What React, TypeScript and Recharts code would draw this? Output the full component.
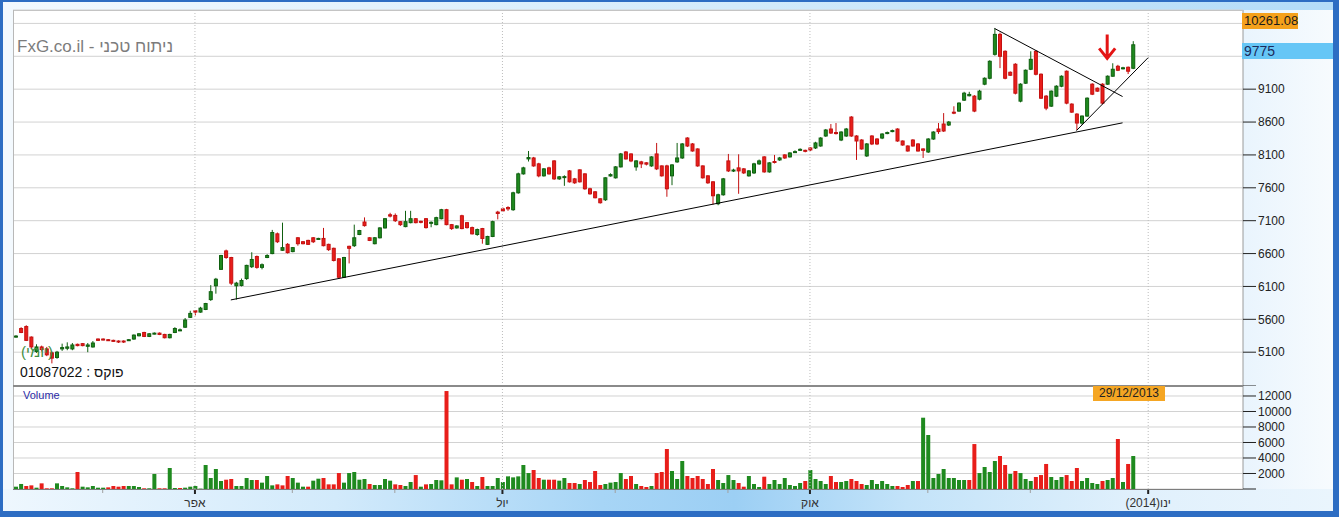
import React from 'react';
import { ComposedChart, Bar, XAxis, YAxis, CartesianGrid, ReferenceLine, ReferenceDot, Cell } from 'recharts';

const FONT = "Arial, 'Liberation Sans', sans-serif";

// [open, high, low, close] per trading day
const candles: [number, number, number, number][] = [
  [5330,5360,5320,5345],[5460,5480,5390,5400],[5490,5510,5270,5280],[5330,5340,5160,5180],[5110,5220,5090,5180],
  [5180,5200,5110,5140],[5150,5180,5040,5060],[5090,5110,4930,5010],[5020,5120,5000,5100],[5150,5230,5120,5170],
  [5160,5250,5130,5180],[5150,5240,5130,5210],[5220,5230,5190,5200],[5230,5240,5190,5200],[5190,5240,5100,5210],
  [5180,5270,5170,5240],[5300,5310,5270,5280],[5300,5310,5280,5290],[5290,5300,5270,5285],[5280,5290,5260,5270],
  [5270,5280,5240,5265],[5270,5280,5240,5260],[5280,5300,5270,5290],[5300,5370,5290,5360],[5350,5390,5340,5380],
  [5400,5410,5330,5340],[5340,5390,5330,5380],[5380,5400,5370,5390],[5390,5400,5360,5370],[5370,5380,5310,5320],
  [5320,5380,5310,5370],[5400,5480,5390,5460],[5430,5460,5420,5440],[5480,5620,5470,5590],[5630,5730,5620,5690],
  [5730,5740,5660,5710],[5710,5790,5700,5770],[5750,5850,5740,5840],[5900,6120,5880,6020],[6110,6230,5990,6210],
  [6360,6580,6350,6570],[6640,6660,6520,6540],[6540,6550,6120,6150],
  [6110,6170,5900,6150],[6115,6220,6100,6190],[6220,6430,6200,6420],[6400,6620,6380,6510],[6555,6570,6370,6390],
  [6390,6450,6360,6430],[6540,6590,6530,6570],[6600,6960,6590,6920],[6900,6920,6760,6780],[6650,7070,6640,6690],
  [6740,6760,6600,6615],[6630,6700,6620,6690],[6840,6850,6720,6750],[6780,6790,6740,6750],[6800,6810,6730,6740],
  [6840,6850,6760,6780],[6820,6840,6810,6830],[6830,6990,6710,6720],[6740,6750,6640,6660],[6680,6690,6480,6495],
  [6520,6530,6215,6240],[6240,6550,6230,6540],[6710,6720,6450,6680],[6720,7040,6700,6840],[6890,6960,6880,6950],
  [7080,7150,7010,7025],[6840,6850,6790,6800],[6750,6850,6740,6840],[6840,7000,6830,6990],[6990,7140,6980,7130],
  [7190,7220,7150,7170],[7180,7210,7080,7100],[7085,7095,7020,7040],[7010,7250,7000,7085],[7070,7250,7060,7130],
  [7130,7140,7060,7070],[7090,7100,7060,7075],[7130,7140,6980,6995],[7060,7090,7000,7075],[7040,7160,7030,7146],
  [7130,7280,7120,7267],[7267,7280,7030,7040],[7040,7050,6960,6980],[6990,7030,6980,7020],[7175,7190,6970,6980],
  [7070,7080,6980,6995],[6995,7010,6890,6900],[6890,6980,6870,6965],[6980,6990,6750,6830],[6740,6870,6730,6860],
  [6860,7100,6850,7085],[7230,7250,7120,7210],[7280,7300,7240,7250],
  [7300,7320,7250,7280],[7267,7540,7250,7524],[7524,7830,7510,7812],[7812,7920,7800,7903],[8040,8160,8000,8060],
  [8054,8070,7920,7933],[7964,7980,7760,7782],[7782,7900,7770,7888],[7903,7920,7800,7812],[8009,8020,7720,7736],
  [7736,7780,7720,7767],[7760,7790,7630,7770],[7857,7870,7680,7691],[7736,7750,7660,7676],[7873,7880,7680,7691],
  [7812,7820,7570,7585],[7585,7600,7495,7509],[7539,7550,7440,7449],[7433,7440,7360,7373],[7418,7760,7400,7752],
  [7780,7820,7770,7800],[7752,7930,7740,7918],[7918,8130,7910,8115],[8145,8160,8030,8039],[8115,8125,7990,8009],
  [7918,8020,7860,8009],[7994,8010,7900,7964],[7980,7990,7940,7960],[7933,8080,7920,8070],[8115,8282,7870,7888],
  [7933,7940,7770,7782],[7933,7950,7464,7585],[7782,7960,7640,7948],[7994,8282,7980,8054],[8054,8280,8040,8267],
  [8357,8370,8220,8236],[8267,8280,8150,8160],[8191,8200,7920,7933],[7933,7940,7740,7752],[7782,7790,7660,7676],
  [7691,7700,7345,7479],[7358,7510,7335,7494],[7494,7750,7480,7736],[8009,8115,7840,7857],[7860,7890,7840,7870],
  [7903,8110,7509,7857],[7888,7900,7810,7827],[7782,7870,7770,7857],
  [7827,7980,7810,7964],[7964,8030,7950,8009],[8070,8080,7830,7842],[7842,7990,7830,7979],[8000,8100,7970,7985],
  [8024,8070,8010,8054],[8100,8110,8040,8054],[8070,8140,8060,8130],[8140,8170,8130,8150],[8170,8200,8160,8185],
  [8170,8180,8140,8155],[8206,8215,8160,8176],[8206,8300,8190,8282],[8236,8370,8225,8357],[8388,8495,8375,8479],
  [8494,8570,8420,8433],[8440,8585,8410,8425],[8327,8460,8310,8448],[8388,8510,8375,8494],[8676,8690,8375,8388],
  [8388,8400,8024,8312],[8327,8340,8180,8191],[8085,8280,8070,8267],[8388,8400,8250,8267],[8342,8355,8250,8267],
  [8357,8430,8340,8418],[8425,8455,8415,8440],[8455,8485,8445,8470],[8494,8505,8300,8312],[8312,8320,8240,8251],
  [8236,8245,8150,8160],[8327,8340,8225,8236],[8267,8280,8150,8160],[8191,8200,8054,8170],[8145,8355,8130,8342],
  [8342,8460,8330,8448],[8494,8585,8420,8455],[8570,8736,8450,8464],[8555,8615,8540,8600],[8750,8840,8720,8736],
  [8767,8900,8755,8888],
  [8933,9060,8920,9039],[9000,9060,8990,9020],[8994,9010,8750,8767],[8948,9090,8930,9070],[9176,9280,9160,9266],
  [9266,9540,9250,9524],[9630,10024,9610,9933],[9933,9960,9420,9600],[9676,9690,9250,9266],[9357,9370,9300,9312],
  [9479,9495,9020,9039],[8918,9190,8900,9176],[9191,9400,9180,9388],[9403,9676,9390,9554],[9676,9690,9310,9327],
  [9327,9340,8950,8963],[8994,9010,8780,8812],[8842,9080,8830,9070],[8994,9160,8980,9145],[9145,9310,9130,9297],
  [9373,9385,8870,8888],[8873,8885,8740,8751],[8721,8735,8479,8585],[8585,8700,8560,8691],[8691,8975,8680,8963],
  [9176,9190,9010,9024],[9115,9125,9060,9070],[9176,9190,8870,8888],[9176,9310,9165,9297],[9297,9494,9290,9403],
  [9448,9470,9375,9388],[9410,9440,9400,9425],[9433,9445,9330,9373],[9418,9830,9405,9775],
];

const volumes: number[] = [
  300,650,390,470,170,730,90,90,730,390,215,90,2190,300,215,390,170,170,215,390,
  300,
  390,390,390,260,90,90,1940,90,90,2710,130,130,170,300,390,50,3100,1420,2580,1030,
  1200,1290,390,390,1420,1160,1160,820,1680,470,
  600,
  470,1680,1420,820,300,300,1075,1330,1420,600,600,2060,820,2060,2190,1200,1290,645,515,515,
  1290,1075,600,515,390,900,1800,300,600,645,1160,1120,12640,600,1500,1200,1290,900,390,1550,
  390,390,1420,900,1630,1500,1630,3100,2060,2450,
  1420,1200,1200,1200,1075,1420,775,775,645,1160,900,2320,515,645,820,900,2060,1290,1680,645,
  390,260,390,2060,2190,
  5160,2320,1290,3610,1680,1420,1680,1290,645,2580,1160,775,1800,1160,775,300,1680,645,260,1590,
  645,1160,645,1420,515,390,775,1030,2450,1290,1030,645,1680,900,900,1030,1290,1030,645,515,
  1160,645,1030,645,390,390,260,515,1030,1030,9200,6970,1420,1940,2580,1420,1420,1160,1160,1160,
  5800,2060,2840,2190,3610,4260,3100,1940,2320,2060,1290,1030,1550,1800,3230,1550,1160,1550,1800,1030,
  2710,1030,1420,775,645,1030,1160,1420,6450,900,3230,4260,
];

const SLOTS = 240;
const monthLabels = [
  { slot: 35, label: 'אפר' },
  { slot: 95, label: 'יול' },
  { slot: 155, label: 'אוק' },
  { slot: 221, label: '(2014)ינו' },
];
const monthMinor = [17, 54, 74, 117, 139, 178, 198];
const priceTicks = [4586, 5100, 5600, 6100, 6600, 7100, 7600, 8100, 8600, 9100, 9600, 10100];
// labels covered by the last-price / max-price boxes
const hiddenPriceLabels = [4586, 9600, 10100];
const volumeTicks = [0, 2000, 4000, 6000, 8000, 10000, 12000];
const trendLines = [
  { x1: 42, y1: 5895, x2: 216, y2: 8588 },
  { x1: 191, y1: 10024, x2: 216, y2: 8988 },
  { x1: 207, y1: 8470, x2: 221, y2: 9580 },
];
const arrowAt = { slot: 213, price: 9933 };

const UP = '#1f8a1f';
const UP_EDGE = '#0f5f0f';
const DOWN = '#e81e1a';
const DOWN_EDGE = '#c41010';

const rows = Array.from({ length: SLOTS }, (_, i) => {
  const c = candles[i];
  if (!c) return { slot: i };
  const [open, high, low, close] = c;
  const prev = i > 0 ? candles[i - 1][3] : open;
  return { slot: i, open, high, low, close, range: [low, high], vol: volumes[i], volUp: close >= prev };
});

function Candle(props: any) {
  const { x, y, width, height, payload } = props;
  if (payload == null || payload.open == null) return null;
  const top = Math.min(y, y + height);
  const span = Math.abs(height);
  const k = span / (payload.high - payload.low);
  const py = (v: number) => top + (payload.high - v) * k;
  const up = payload.close >= payload.open;
  const cx = x + width / 2;
  const bTop = py(Math.max(payload.open, payload.close));
  const bBot = py(Math.min(payload.open, payload.close));
  return (
    <g>
      <line x1={cx} x2={cx} y1={top} y2={top + span} stroke={up ? UP_EDGE : DOWN_EDGE} strokeWidth={1} />
      <rect x={cx - 1.5} y={bTop} width={3} height={Math.max(1, bBot - bTop)} fill={up ? UP : DOWN} stroke={up ? UP_EDGE : DOWN_EDGE} strokeWidth={1} />
    </g>
  );
}

function MonthTick(props: any) {
  const { x, y, payload } = props;
  const major = monthLabels.find((m) => m.slot === payload.value);
  if (major) {
    return (
      <g>
        <line x1={x} x2={x} y1={y} y2={y + 5} stroke="#222" strokeWidth={2} />
        <text x={x} y={y + 18} textAnchor="middle" fontSize={12} fill="#333" fontFamily={FONT}>{major.label}</text>
      </g>
    );
  }
  if (monthMinor.includes(payload.value)) {
    return <line x1={x} x2={x} y1={y} y2={y + 4} stroke="#a0a0a0" />;
  }
  return <g />;
}

function Arrow(props: any) {
  const { cx, cy } = props;
  return (
    <path
      d={`M${cx},${cy} L${cx},${cy + 23} M${cx - 8},${cy + 14} L${cx},${cy + 24} L${cx + 8},${cy + 14}`}
      stroke="#e41414" strokeWidth={3} fill="none"
    />
  );
}

const axisTick = { fill: '#222', fontSize: 12, fontFamily: FONT };

export default function App() {
  return (
    <div style={{ position: 'absolute', left: 0, top: 0, width: 1339, height: 517, background: '#2d6dc3', overflow: 'hidden', fontFamily: FONT }}>
      <div style={{ position: 'absolute', left: 3, top: 2, width: 1330, height: 509, background: '#f3f9fe' }} />
      <div style={{ position: 'absolute', left: 3, top: 2, width: 1330, height: 8, background: 'linear-gradient(to right, #f2f9ff, #d3ebfb 55%, #b3dcf8)' }} />
      <div style={{ position: 'absolute', left: 1243, top: 10, width: 90, height: 479, background: 'linear-gradient(to right, #e9f4fd, #f7fbfe)' }} />
      <div style={{ position: 'absolute', left: 3, top: 489, width: 1330, height: 22, background: 'linear-gradient(to right, #eef7fe 0%, #d2eafb 25%, #a7d5f6 45%, #9ccff4 55%, #c3e3f9 68%, #e0f0fc 85%, #eaf5fd 100%)' }} />
      <div style={{ position: 'absolute', left: 13, top: 10, width: 1230, height: 479, background: '#ffffff' }} />

      <div style={{ position: 'absolute', left: 0, top: 0 }}>
        <ComposedChart width={1339} height={386} data={rows} margin={{ top: 10, right: 6, bottom: 0, left: 13 }}>
          <CartesianGrid vertical={false} stroke="#d2d2d2" />
          <XAxis dataKey="slot" hide />
          <YAxis
            orientation="right"
            width={90}
            type="number"
            domain={[4586, 10304]}
            allowDataOverflow
            ticks={priceTicks}
            interval={0}
            tickFormatter={(v: number) => (hiddenPriceLabels.includes(v) ? '' : String(v))}
            tick={axisTick}
            tickSize={13}
            tickLine={{ stroke: '#222' }}
            axisLine={{ stroke: '#9a9a9a' }}
          />
          {monthLabels.map((m) => (
            <ReferenceLine key={m.slot} x={m.slot} stroke="#bdbdbd" strokeDasharray="1 2" />
          ))}
          <Bar dataKey="range" barSize={4} shape={(p: any) => <Candle {...p} />} isAnimationActive={false} />
          {trendLines.map((t, i) => (
            <ReferenceLine
              key={i}
              segment={[{ x: t.x1, y: t.y1 }, { x: t.x2, y: t.y2 }]}
              stroke="#000"
              strokeWidth={1}
              ifOverflow="visible"
            />
          ))}
          <ReferenceDot x={arrowAt.slot} y={arrowAt.price} r={0} shape={(p: any) => <Arrow {...p} />} ifOverflow="visible" />
        </ComposedChart>
      </div>

      <div style={{ position: 'absolute', left: 0, top: 386 }}>
        <ComposedChart width={1339} height={131} data={rows} margin={{ top: 0, right: 6, bottom: 0, left: 13 }}>
          <CartesianGrid vertical={false} stroke="#d2d2d2" />
          <XAxis
            dataKey="slot"
            interval={0}
            height={28}
            tickLine={false}
            axisLine={false}
            tickSize={0}
            tickMargin={0}
            tick={(p: any) => <MonthTick {...p} />}
          />
          <YAxis
            orientation="right"
            width={90}
            type="number"
            domain={[0, 13290]}
            allowDataOverflow
            ticks={volumeTicks}
            interval={0}
            tickFormatter={(v: number) => (v === 0 ? '' : String(v))}
            tick={axisTick}
            tickSize={13}
            tickLine={{ stroke: '#222' }}
            axisLine={{ stroke: '#9a9a9a' }}
          />
          {monthLabels.map((m) => (
            <ReferenceLine key={m.slot} x={m.slot} stroke="#bdbdbd" strokeDasharray="1 2" />
          ))}
          <Bar dataKey="vol" barSize={4} isAnimationActive={false}>
            {rows.map((r: any) => (
              <Cell key={r.slot} fill={r.volUp ? UP : DOWN} />
            ))}
          </Bar>
        </ComposedChart>
      </div>

      <div style={{ position: 'absolute', left: 13, top: 10, width: 1230, height: 1, background: '#c4c4c4' }} />
      <div style={{ position: 'absolute', left: 13, top: 10, width: 1, height: 479, background: '#b8b8b8' }} />
      <div style={{ position: 'absolute', left: 13, top: 385, width: 1230, height: 2, background: '#8a8a8a' }} />
      <div style={{ position: 'absolute', left: 13, top: 489, width: 1230, height: 1, background: '#7d7d7d' }} />

      <div style={{ position: 'absolute', left: 17, top: 37, fontSize: 17, lineHeight: '20px', color: '#7c7c7c', whiteSpace: 'nowrap' }}>
        FxG.co.il - ניתוח טכני
      </div>
      <div style={{ position: 'absolute', left: 21, top: 343, fontSize: 15, lineHeight: '17px', color: '#3f8f3f', whiteSpace: 'nowrap' }}>
        (יומי)
      </div>
      <div style={{ position: 'absolute', left: 20, top: 364, fontSize: 14, lineHeight: '16px', color: '#111', whiteSpace: 'nowrap' }}>
        01087022 : פוקס
      </div>
      <div style={{ position: 'absolute', left: 23, top: 389, fontSize: 11, lineHeight: '13px', color: '#2b2ba6' }}>Volume</div>

      <div style={{ position: 'absolute', left: 1242, top: 13, width: 56, height: 16, background: '#f5a11c', fontSize: 13, lineHeight: '16px', color: '#1a1a1a', paddingLeft: 2, boxSizing: 'border-box', whiteSpace: 'nowrap' }}>
        10261.08
      </div>
      <div style={{ position: 'absolute', left: 1242, top: 43, width: 91, height: 16, background: '#66c6f6', fontSize: 14, lineHeight: '16px', color: '#1c2a5c', paddingLeft: 2, boxSizing: 'border-box' }}>
        9775
      </div>
      <div style={{ position: 'absolute', left: 1093, top: 386, width: 72, height: 15, background: '#f5a623', fontSize: 12, lineHeight: '15px', color: '#222', textAlign: 'center' }}>
        29/12/2013
      </div>
    </div>
  );
}
